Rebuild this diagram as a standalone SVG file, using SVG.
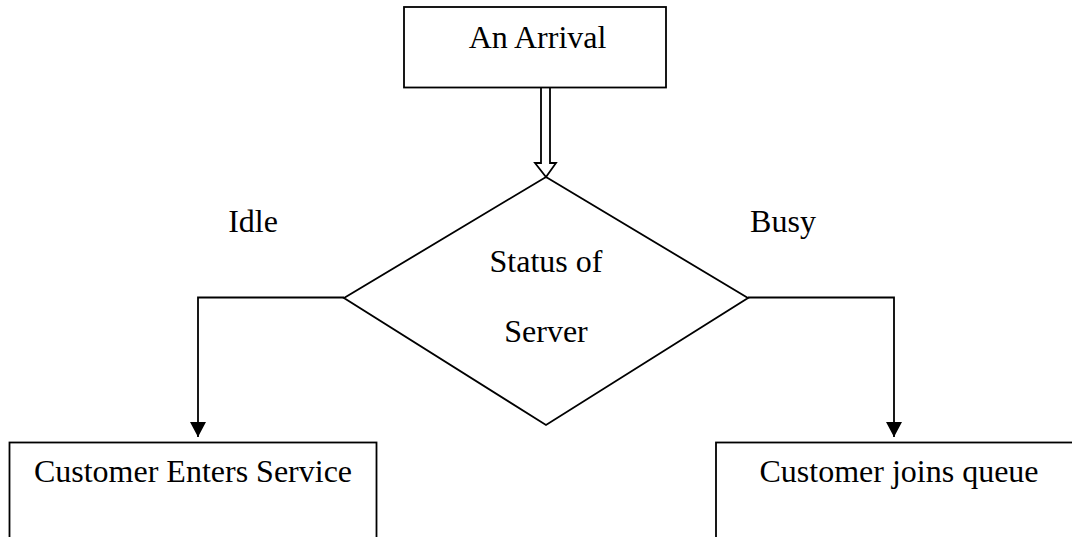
<svg xmlns="http://www.w3.org/2000/svg" width="1072" height="537" viewBox="0 0 1072 537">
<style>
.shape{fill:none;stroke:#000;stroke-width:1.8}
.conn{fill:none;stroke:#000;stroke-width:1.8}
.t{font-family:"Liberation Serif","Times New Roman",serif;font-size:32px;fill:#000;text-anchor:middle}
</style>
<defs>
<marker id="arr" markerWidth="16" markerHeight="16" viewBox="0 0 16 16" refX="15" refY="8" orient="auto" markerUnits="userSpaceOnUse">
<path d="M0,0 L15,8 L0,16 z" fill="#000"/>
</marker>
</defs>
<rect width="1072" height="537" fill="#fff"/>
<g id="connectors">
<path class="conn" d="M541,88 L541,163 L535,163 L546,177 L556,163 L550,163 L550,88" stroke-linejoin="miter"/>
<path class="conn" d="M344,297.5 L198,297.5 L198,437" marker-end="url(#arr)"/>
<path class="conn" d="M748,297.5 L894,297.5 L894,437" marker-end="url(#arr)"/>
</g>
<g id="arrival">
<rect class="shape" x="404" y="7" width="262" height="80.5"/>
<text class="t" x="537.5" y="48">An Arrival</text>
</g>
<g id="status">
<polygon class="shape" points="546,177 748,298 546,425 344,298"/>
<text class="t" x="546" y="272">Status of</text>
<text class="t" x="546" y="342">Server</text>
</g>
<g id="label-idle"><text class="t" x="253" y="232">Idle</text></g>
<g id="label-busy"><text class="t" x="783" y="232">Busy</text></g>
<g id="enters">
<rect class="shape" x="9.5" y="442.5" width="367" height="110"/>
<text class="t" x="193" y="482">Customer Enters Service</text>
</g>
<g id="queue">
<rect class="shape" x="716" y="442.5" width="370" height="110"/>
<text class="t" x="899" y="482">Customer joins queue</text>
</g>
</svg>
